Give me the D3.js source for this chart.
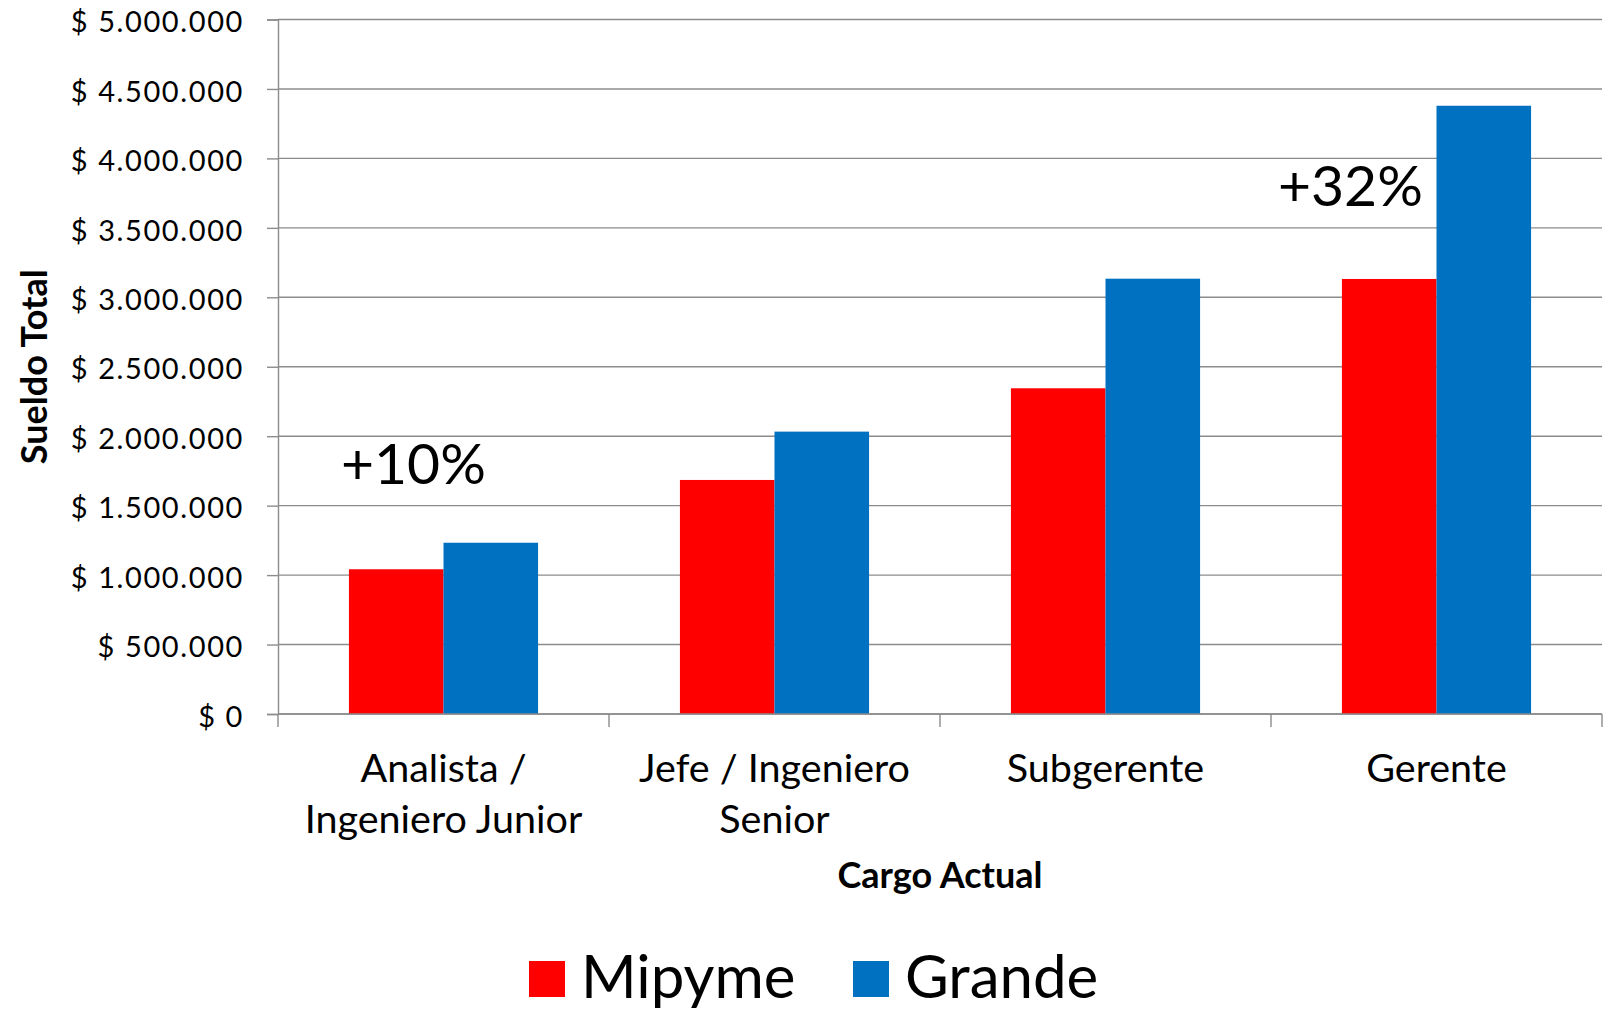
<!DOCTYPE html>
<html>
<head>
<meta charset="utf-8">
<script src="https://cdn.jsdelivr.net/npm/d3@7"></script>
<style>
  html, body { margin: 0; padding: 0; background: #fff; }
  svg { display: block; }
  text { font-family: Lato, "Open Sans", sans-serif; fill: #000; }
</style>
</head>
<body>
<svg id="chart" width="1619" height="1012"></svg>
<script>
// ---- data ----
const categories = ["Analista /\nIngeniero Junior", "Jefe / Ingeniero\nSenior", "Subgerente", "Gerente"];
const seriesNames = ["Mipyme", "Grande"];
const mipyme = [1042000, 1685000, 2345000, 3132000];
const grande = [1233000, 2033000, 3134000, 4379000];
const yTickValues = [0, 500000, 1000000, 1500000, 2000000, 2500000, 3000000, 3500000, 4000000, 4500000, 5000000];
const annotationLabels = ["+10%", "+32%"];
const xTitle = "Cargo Actual";
const yTitle = "Sueldo Total";

// ---- drawing ----
(function () {
const colors = {Mipyme: "#FF0000", Grande: "#0070C0"};
const svg = d3.select("#chart");
const pLeft = 278, pRight = 1602, pTop = 19.5, pBottom = 714;

const locale = d3.formatLocale({decimal: ",", thousands: ".", grouping: [3], currency: ["$ ", ""]});
const fmt = locale.format("$,.0f");

const x0 = d3.scaleBand().domain(categories).range([pLeft, pRight]).paddingInner(0).paddingOuter(0);
const x1 = d3.scaleBand().domain(seriesNames).range([0, x0.bandwidth()]).paddingInner(0).paddingOuter(0.75);
const y = d3.scaleLinear().domain([0, 5000000]).range([pBottom, pTop]);

const gridColor = "#8c8c8c";

// gridlines
svg.append("g").selectAll("line").data(yTickValues).join("line")
  .attr("x1", pLeft).attr("x2", pRight)
  .attr("y1", d => y(d)).attr("y2", d => y(d))
  .attr("stroke", gridColor).attr("stroke-width", 1.4);

// y axis
const yAxis = d3.axisLeft(y).tickValues(yTickValues).tickSize(11).tickPadding(23).tickFormat(fmt);
const gy = svg.append("g").attr("transform", `translate(${pLeft},0)`).call(yAxis);
gy.select(".domain").attr("stroke", gridColor).attr("stroke-width", 1.4);
gy.selectAll(".tick line").attr("stroke", gridColor).attr("stroke-width", 1.4);
gy.selectAll(".tick text")
  .attr("font-size", 29).attr("font-family", "Lato, sans-serif")
  .style("letter-spacing", "1.6px")
  .attr("dy", "0.42em").attr("fill", "#000");

// bars
const rows = categories.map((c, i) => ({cat: c, vals: [
  {key: "Mipyme", value: mipyme[i]},
  {key: "Grande", value: grande[i]}
]}));
svg.append("g").selectAll("g").data(rows).join("g")
  .attr("transform", d => `translate(${x0(d.cat)},0)`)
  .selectAll("rect").data(d => d.vals).join("rect")
  .attr("x", d => x1(d.key))
  .attr("width", x1.bandwidth())
  .attr("y", d => y(d.value))
  .attr("height", d => y(0) - y(d.value))
  .attr("fill", d => colors[d.key]);

// x axis (baseline + boundary ticks)
svg.append("line").attr("x1", pLeft).attr("x2", pRight).attr("y1", y(0)).attr("y2", y(0))
  .attr("stroke", gridColor).attr("stroke-width", 1.4);
const boundaries = categories.map(c => x0(c)).concat([pRight]);
svg.append("g").selectAll("line").data(boundaries).join("line")
  .attr("x1", d => d).attr("x2", d => d)
  .attr("y1", y(0)).attr("y2", y(0) + 13)
  .attr("stroke", gridColor).attr("stroke-width", 1.4);

// category labels
const catG = svg.append("g");
categories.forEach(c => {
  const lines = c.split("\n");
  const t = catG.append("text")
    .attr("x", x0(c) + x0.bandwidth() / 2)
    .attr("y", 782)
    .attr("text-anchor", "middle")
    .attr("font-size", 39.5);
  lines.forEach((l, i) => {
    t.append("tspan").attr("x", x0(c) + x0.bandwidth() / 2).attr("dy", i === 0 ? 0 : 51).text(l);
  });
});

// axis titles
svg.append("text").attr("x", (pLeft + pRight) / 2).attr("y", 888)
  .attr("text-anchor", "middle").attr("font-size", 36).attr("font-weight", "bold").text(xTitle);
svg.append("text")
  .attr("transform", `translate(47,${(pTop + pBottom) / 2}) rotate(-90)`)
  .attr("text-anchor", "middle").attr("font-size", 36).attr("font-weight", "bold").text(yTitle);

// annotations
svg.append("text").attr("x", x0(categories[0]) + 63).attr("y", 484)
  .attr("font-size", 57).text(annotationLabels[0]);
svg.append("text").attr("x", x0(categories[3]) + 7).attr("y", 206)
  .attr("font-size", 57).text(annotationLabels[1]);

// legend
const legendX = [529, 853];
const lg = svg.append("g").selectAll("g").data(seriesNames).join("g")
  .attr("transform", (d, i) => `translate(${legendX[i]},961)`);
lg.append("rect").attr("width", 36).attr("height", 36).attr("fill", d => colors[d]);
lg.append("text").attr("x", 52).attr("y", 37).attr("font-size", 60).text(d => d);
})();
</script>
</body>
</html>
